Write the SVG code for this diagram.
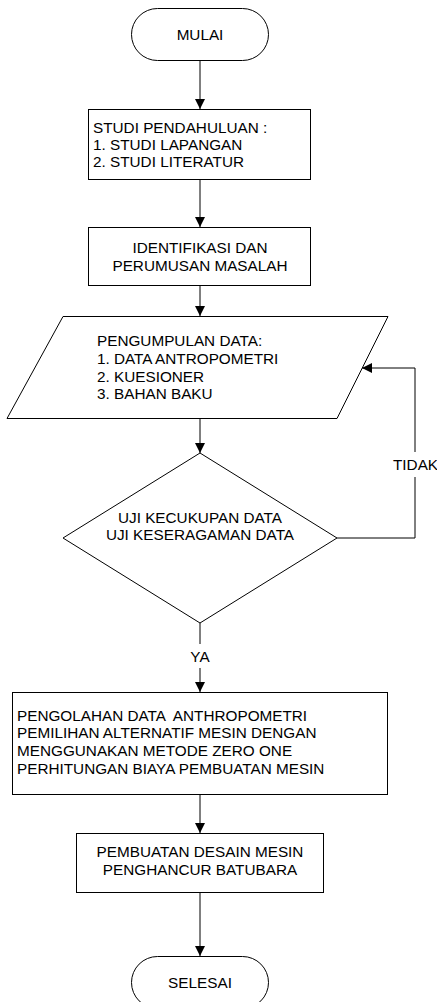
<svg xmlns="http://www.w3.org/2000/svg" width="437" height="1002" viewBox="0 0 437 1002">
<style>
.s{fill:#fff;stroke:#000;stroke-width:1}
.t{font-family:"Liberation Sans",Arial,sans-serif;font-size:15.3px;fill:#000;white-space:pre}
.c{text-anchor:middle}
.l{fill:none;stroke:#000;stroke-width:1}
</style>
<defs>
<marker id="a" markerWidth="10" markerHeight="10" refX="10" refY="5" orient="auto" markerUnits="userSpaceOnUse">
<path d="M0,0 L10,5 L0,10 Z" fill="#000"/>
</marker>
</defs>
<rect width="437" height="1002" fill="#fff"/>
<g id="connectors">
<line class="l" x1="200" y1="60" x2="200" y2="109" marker-end="url(#a)"/>
<line class="l" x1="200" y1="179" x2="200" y2="227" marker-end="url(#a)"/>
<line class="l" x1="200" y1="285" x2="200" y2="316" marker-end="url(#a)"/>
<line class="l" x1="200" y1="418" x2="200" y2="453" marker-end="url(#a)"/>
<polyline class="l" points="337,538 415,538 415,477"/>
<polyline class="l" points="415,452 415,368 362,368" marker-end="url(#a)"/>
<line class="l" x1="200" y1="623" x2="200" y2="644"/>
<line class="l" x1="200" y1="668" x2="200" y2="692" marker-end="url(#a)"/>
<line class="l" x1="200" y1="794" x2="200" y2="833" marker-end="url(#a)"/>
<line class="l" x1="200" y1="892" x2="200" y2="956" marker-end="url(#a)"/>
<text class="t" x="393" y="470">TIDAK</text>
<text class="t c" x="200" y="662">YA</text>
</g>
<g id="mulai">
<rect class="s" x="131.5" y="8.5" width="137" height="52" rx="26" ry="26"/>
<text class="t c" x="200" y="40">MULAI</text>
</g>
<g id="studi">
<rect class="s" x="88.5" y="109.5" width="222" height="70"/>
<text class="t" x="93" y="133">STUDI PENDAHULUAN :</text>
<text class="t" x="93" y="150">1. STUDI LAPANGAN</text>
<text class="t" x="93" y="167">2. STUDI LITERATUR</text>
</g>
<g id="identifikasi">
<rect class="s" x="88.5" y="227.5" width="222" height="58"/>
<text class="t c" x="200" y="253">IDENTIFIKASI DAN</text>
<text class="t c" x="200" y="271">PERUMUSAN MASALAH</text>
</g>
<g id="pengumpulan">
<polygon class="s" points="63,316.5 388,316.5 337,418.5 7,418.5"/>
<text class="t" x="97" y="346">PENGUMPULAN DATA:</text>
<text class="t" x="97" y="364">1. DATA ANTROPOMETRI</text>
<text class="t" x="97" y="381.5">2. KUESIONER</text>
<text class="t" x="97" y="399">3. BAHAN BAKU</text>
</g>
<g id="uji">
<polygon class="s" points="200,453 337,538 200,623 63,538"/>
<text class="t c" x="200" y="523">UJI KECUKUPAN DATA</text>
<text class="t c" x="200" y="540">UJI KESERAGAMAN DATA</text>
</g>
<g id="pengolahan">
<rect class="s" x="12.5" y="692.5" width="375" height="102"/>
<text class="t" x="17" y="720.5" xml:space="preserve">PENGOLAHAN DATA  ANTHROPOMETRI</text>
<text class="t" x="17" y="738">PEMILIHAN ALTERNATIF MESIN DENGAN</text>
<text class="t" x="17" y="756">MENGGUNAKAN METODE ZERO ONE</text>
<text class="t" x="17" y="774">PERHITUNGAN BIAYA PEMBUATAN MESIN</text>
</g>
<g id="pembuatan">
<rect class="s" x="76.5" y="833.5" width="247" height="59"/>
<text class="t c" x="200" y="857">PEMBUATAN DESAIN MESIN</text>
<text class="t c" x="200" y="875">PENGHANCUR BATUBARA</text>
</g>
<g id="selesai">
<rect class="s" x="131.5" y="956.5" width="137" height="52" rx="26" ry="26"/>
<text class="t c" x="200" y="988">SELESAI</text>
</g>
</svg>
